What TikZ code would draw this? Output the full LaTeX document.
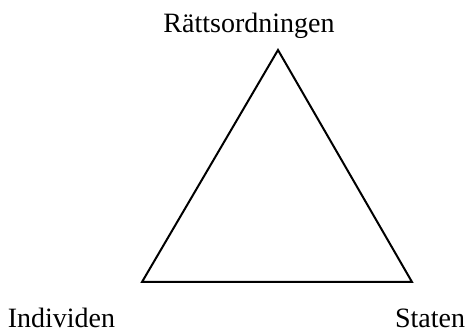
\documentclass[tikz,border=0pt]{standalone}
\usepackage{fontspec}
\setmainfont{Liberation Serif}
\begin{document}
\begin{tikzpicture}[x=1pt,y=1pt,
  lbl/.style={anchor=base,inner sep=0pt,font=\fontsize{28}{31}\selectfont},
  edge/.style={line width=2pt,line join=miter}]
\useasboundingbox (0,0) rectangle (467,334);
\coordinate (top) at (278,284);
\coordinate (bl) at (142,52);
\coordinate (br) at (412,52);
\draw[edge] (top) -- (bl) -- (br) -- cycle;
\node[lbl] (r) at (249,301) {Rättsordningen};
\node[lbl] (i) at (61.5,6) {Individen};
\node[lbl] (s) at (430,6) {Staten};
\end{tikzpicture}
\end{document}
